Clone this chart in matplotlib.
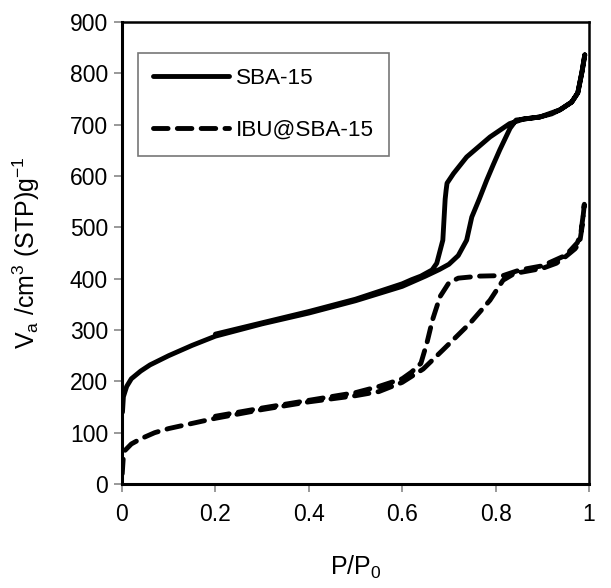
import numpy as np
import matplotlib
matplotlib.use("Agg")
import matplotlib.pyplot as plt

plt.rcParams['font.family'] = ['Liberation Sans', 'DejaVu Sans']
plt.rcParams['mathtext.fontset'] = 'custom'
plt.rcParams['mathtext.rm'] = 'Liberation Sans'

# SBA-15 isotherm (adsorption up, desorption down)
sba_ads_p = [0.001, 0.003, 0.01, 0.02, 0.04, 0.06, 0.10, 0.15, 0.20, 0.30, 0.40, 0.50,
             0.60, 0.65, 0.68, 0.70, 0.72, 0.738, 0.749, 0.765, 0.781, 0.795, 0.809,
             0.831, 0.844, 0.87, 0.895, 0.92, 0.938, 0.963, 0.976, 0.985, 0.991]
sba_ads_v = [140, 170, 190, 205, 220, 232, 250, 270, 288, 312, 333, 357,
             385, 405, 418, 428, 445, 475, 520, 555, 592, 622, 651,
             693, 709, 712, 715, 721, 729, 744, 762, 803, 836]
sba_des_p = [0.991, 0.985, 0.976, 0.963, 0.938, 0.895, 0.86, 0.83, 0.788, 0.738,
             0.71, 0.696, 0.694, 0.692, 0.687, 0.674, 0.664, 0.64, 0.62, 0.60,
             0.50, 0.40, 0.30, 0.20]
sba_des_v = [836, 803, 762, 744, 729, 715, 711, 702, 676, 637,
             605, 586, 572, 555, 475, 430, 417, 405, 398, 390,
             360, 336, 314, 292]

# IBU@SBA-15 isotherm
ibu_ads_p = [0.0005, 0.003, 0.006, 0.02, 0.04, 0.07, 0.10, 0.15, 0.20, 0.30, 0.40, 0.50,
             0.55, 0.60, 0.645, 0.687, 0.745, 0.788, 0.816, 0.84, 0.87, 0.90, 0.93,
             0.95, 0.97, 0.98, 0.985, 0.99]
ibu_ads_v = [20, 55, 65, 78, 88, 100, 108, 118, 128, 145, 160, 172,
             180, 198, 224, 261, 313, 358, 397, 410, 415, 420, 430,
             443, 458, 470, 500, 545]
ibu_des_p = [0.99, 0.987, 0.982, 0.975, 0.96, 0.944, 0.90, 0.852, 0.816, 0.766,
             0.72, 0.70, 0.681, 0.665, 0.653, 0.64, 0.62, 0.60, 0.55, 0.50,
             0.40, 0.30, 0.20]
ibu_des_v = [545, 520, 485, 470, 455, 443, 425, 417, 406, 405,
             401, 392, 365, 320, 275, 235, 218, 205, 190, 178,
             163, 148, 132]

x_ticks = [0, 0.2, 0.4, 0.6, 0.8, 1]
x_labels = ['0', '0.2', '0.4', '0.6', '0.8', '1']
y_ticks = list(range(0, 901, 100))

fig = plt.figure(figsize=(6.11, 5.88), dpi=100)
ax = fig.add_axes([122 / 611, 1 - 484 / 588, 467 / 611, 462 / 588])

ax.plot(sba_ads_p + sba_des_p, sba_ads_v + sba_des_v, color='black', lw=3.5,
        solid_joinstyle='round', solid_capstyle='round', label='SBA-15')
ax.plot(ibu_ads_p + ibu_des_p, ibu_ads_v + ibu_des_v, color='black', lw=3.5,
        dashes=(3.0, 1.9), dash_capstyle='round', label='IBU@SBA-15')

ax.set_xlim(0, 1)
ax.set_ylim(0, 900)
ax.set_xticks(x_ticks)
ax.set_xticklabels(x_labels)
ax.set_yticks(y_ticks)

for side in ['left', 'bottom']:
    ax.spines[side].set_linewidth(2.2)
for side in ['top', 'right']:
    ax.spines[side].set_linewidth(1.8)

ax.tick_params(axis='both', direction='out', length=6, width=1.2,
               color='#888888', labelsize=16.5)
ax.tick_params(axis='x', pad=8)
ax.tick_params(axis='y', pad=4)

ax.set_xlabel('P/P$_\\mathregular{0}$', fontsize=18, labelpad=20)
ax.set_ylabel('V$_\\mathregular{a}$ /cm$^\\mathregular{3}$ (STP)g$^\\mathregular{-1}$',
              fontsize=18, labelpad=20)

leg = ax.legend(loc='upper left', bbox_to_anchor=(138 / 611, 1 - 53 / 588),
                bbox_transform=fig.transFigure, fontsize=16.2, frameon=True,
                fancybox=False, handlelength=3.4, handletextpad=0.3,
                labelspacing=1.4, borderpad=0.65, borderaxespad=0)
leg.get_frame().set_edgecolor('#555555')
leg.get_frame().set_linewidth(1.2)

fig.savefig('out.png', dpi=100)
